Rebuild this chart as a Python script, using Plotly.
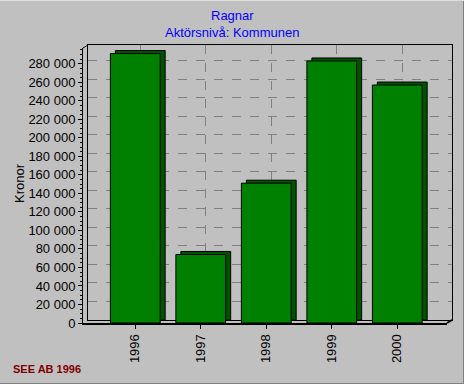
import plotly.graph_objects as go

# ---- data ----
years = ["1996", "1997", "1998", "1999", "2000"]
values = [291000, 74000, 151000, 283000, 257000]
ytick_vals = list(range(0, 280001, 20000))
ytick_text = [f"{v:,}".replace(",", " ") for v in ytick_vals]
title_lines = ["Ragnar", "Aktörsnivå: Kommunen"]
y_title = "Kronor"
footer = "SEE AB 1996"

# ---- layout constants (pixels) ----
W, H = 464, 384
L, R, T, B = 83, 12, 45, 61
PW, PH = W - L - R, H - T - B
DX, DY = 5, 3
XR = [-0.798, 4.759]
YMAX = 297000
FONT = "Liberation Sans, Arial, sans-serif"

back_bar = "#005400"
front_bar = "#008000"

fig = go.Figure()
# back (depth) bars -> side/top faces
fig.add_trace(go.Bar(x=years, y=values, xaxis="x", yaxis="y", width=0.76,
                     marker=dict(color=back_bar, line=dict(color="black", width=1)),
                     hoverinfo="skip"))
# front faces
fig.add_trace(go.Bar(x=years, y=values, xaxis="x2", yaxis="y2", width=0.76,
                     marker=dict(color=front_bar, line=dict(color="black", width=1))))

def px_x(p):
    return (p - L) / PW

def px_y(p):
    return (H - B - p) / PH

shapes = [
    dict(type="line", xref="paper", yref="paper", x0=px_x(83), y0=px_y(48), x1=px_x(88), y1=px_y(45),
         line=dict(color="black", width=1)),
    dict(type="line", xref="paper", yref="paper", x0=px_x(447), y0=px_y(323), x1=px_x(452), y1=px_y(320),
         line=dict(color="black", width=2)),
    # window border
    dict(type="line", xref="paper", yref="paper", x0=px_x(463.5), y0=px_y(0), x1=px_x(463.5), y1=px_y(384),
         line=dict(color="#808080", width=1)),
    dict(type="line", xref="paper", yref="paper", x0=px_x(0), y0=px_y(383.5), x1=px_x(464), y1=px_y(383.5),
         line=dict(color="#808080", width=1)),
    dict(type="line", xref="paper", yref="paper", x0=px_x(0), y0=px_y(0.5), x1=px_x(464), y1=px_y(0.5),
         line=dict(color="#e0e0e0", width=1)),
]

annotations = [
    dict(text=title_lines[0], xref="paper", yref="paper", x=px_x(232), y=px_y(16),
         xanchor="center", yanchor="middle", showarrow=False,
         font=dict(family=FONT, size=13, color="#0000ff")),
    dict(text=title_lines[1], xref="paper", yref="paper", x=px_x(232), y=px_y(32),
         xanchor="center", yanchor="middle", showarrow=False,
         font=dict(family=FONT, size=13, color="#0000ff")),
    dict(text=y_title, xref="paper", yref="paper", x=px_x(19), y=px_y(183),
         xanchor="center", yanchor="middle", textangle=-90, showarrow=False,
         font=dict(family=FONT, size=13, color="black")),
    dict(text="<b>" + footer + "</b>", xref="paper", yref="paper", x=px_x(11),
         y=px_y(369), xanchor="left", yanchor="middle", showarrow=False,
         font=dict(family=FONT, size=11, color="#800000")),
]

fig.update_layout(
    width=W, height=H,
    margin=dict(l=L, r=R, t=T, b=B, pad=0),
    paper_bgcolor="#c0c0c0",
    plot_bgcolor="rgba(0,0,0,0)",
    showlegend=False,
    bargap=0.24,
    font=dict(family=FONT, size=13, color="black"),
    xaxis=dict(domain=[DX / PW, 1], range=XR, type="category", categoryarray=years,
               showticklabels=False, ticks="", showgrid=True, gridcolor="#808080",
               griddash="dash", gridwidth=1, showline=True, mirror=True,
               linecolor="black", linewidth=1, anchor="y", layer="below traces"),
    yaxis=dict(domain=[DY / PH, 1], range=[0, YMAX], tickvals=ytick_vals,
               showticklabels=False, ticks="", showgrid=True, gridcolor="#808080",
               griddash="dash", gridwidth=1, zeroline=False, showline=True,
               mirror=True, linecolor="black", linewidth=1, anchor="x",
               layer="below traces"),
    xaxis2=dict(domain=[0, 1 - DX / PW], range=XR, type="category", categoryarray=years,
                anchor="y2", showgrid=False, showline=True, linecolor="black",
                linewidth=2, ticks="outside", ticklen=4, tickcolor="black",
                tickangle=-90, tickfont=dict(family=FONT, size=13, color="black")),
    yaxis2=dict(domain=[0, 1 - DY / PH], range=[0, YMAX], anchor="x2",
                tickvals=ytick_vals, ticktext=ytick_text, showgrid=False,
                zeroline=False, showline=True, linecolor="black", linewidth=1,
                ticks="outside", ticklen=4, tickcolor="black",
                minor=dict(ticks="outside", ticklen=2, tickcolor="black", dtick=5000),
                tickfont=dict(family=FONT, size=13, color="black")),
    shapes=shapes,
    annotations=annotations,
)

fig.write_html("out.html")
